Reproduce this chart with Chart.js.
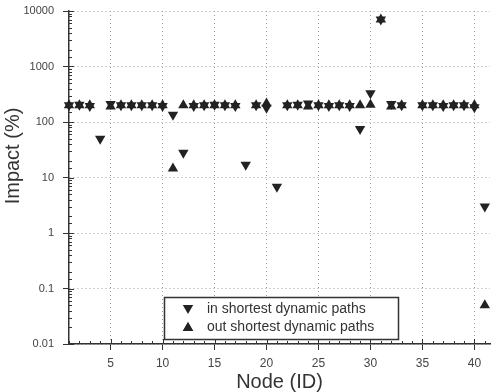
<!DOCTYPE html>
<html>
<head>
<meta charset="utf-8">
<script src="https://cdn.jsdelivr.net/npm/chart.js@4.4.0/dist/chart.umd.min.js"></script>
<style>
html, body { margin: 0; padding: 0; background: #fff; overflow: hidden; }
</style>
</head>
<body>
<canvas id="impactChart" width="496" height="392"></canvas>
<script>
const nodes = [1,2,3,4,5,6,7,8,9,10,11,12,13,14,15,16,17,18,19,20,21,22,23,24,25,26,27,28,29,30,31,32,33,34,35,36,37,38,39,40,41];

// in shortest dynamic paths (down triangles)
const inPaths = [200,205,195,50,210,200,200,200,200,195,135,28,195,200,205,200,195,17,200,180,6.8,200,205,215,200,195,200,195,75,330,7000,210,200,null,200,200,195,200,200,185,3];

// out shortest dynamic paths (up triangles)
const outPaths = [200,200,200,null,190,200,200,200,200,200,14.5,200,200,200,200,200,200,null,200,215,null,200,200,190,200,200,200,200,200,205,7000,190,200,null,200,200,200,200,200,200,0.05];

const seriesLabels = ['in shortest dynamic paths', 'out shortest dynamic paths'];
const xTickValues = [5,10,15,20,25,30,35,40];
const yTickLabels = ['0.01','0.1','1','10','100','1000','10000'];

const FONT = "'Liberation Sans', Arial, sans-serif";
const INK = '#222';

const isDecade = v => {
    const e = Math.log10(v);
    return Math.abs(e - Math.round(e)) < 1e-6;
};

const toPoints = vals => nodes.map((n, i) => ({ x: n, y: vals[i] }));

/* small inward tick marks + legend box + y title */
const decorations = {
    id: 'decorations',
    afterDraw(chart) {
        const { ctx, chartArea: a, scales: { x, y } } = chart;
        ctx.save();
        ctx.strokeStyle = '#333';
        ctx.lineWidth = 1;
        ctx.beginPath();
        y.ticks.forEach(t => {
            const py = Math.round(y.getPixelForValue(t.value)) + 0.5;
            const len = isDecade(t.value) ? 5 : 3;
            ctx.moveTo(a.left, py); ctx.lineTo(a.left + len, py);
        });
        x.ticks.forEach(t => {
            const px = Math.round(x.getPixelForValue(t.value)) + 0.5;
            const len = xTickValues.includes(t.value) ? 5 : 3;
            ctx.moveTo(px, a.bottom); ctx.lineTo(px, a.bottom - len);
        });
        ctx.stroke();

        // legend
        ctx.fillStyle = '#fff';
        ctx.fillRect(164, 297, 234, 42);
        ctx.strokeStyle = '#333';
        ctx.lineWidth = 1.5;
        ctx.strokeRect(164.5, 297.5, 234, 42);
        chart.data.datasets.forEach((ds, i) => {
            const cy = 309 + i * 18;
            Chart.helpers.drawPoint(ctx, {
                pointStyle: 'triangle', rotation: ds.pointRotation, radius: 6, borderWidth: 0
            }, 188, cy + (ds.pointRotation ? -1 : 1));
            ctx.fillStyle = INK;
            ctx.fill();
            ctx.fillStyle = '#333';
            ctx.font = '14px ' + FONT;
            ctx.textBaseline = 'middle';
            ctx.textAlign = 'left';
            ctx.fillText(ds.label, 207, cy);
        });

        // y axis title
        ctx.translate(13, 156);
        ctx.rotate(-Math.PI / 2);
        ctx.textAlign = 'center';
        ctx.textBaseline = 'middle';
        ctx.font = '20px ' + FONT;
        ctx.fillStyle = '#333';
        ctx.fillText('Impact (%)', 0, 0);
        ctx.restore();
    }
};

new Chart(document.getElementById('impactChart'), {
    type: 'scatter',
    data: {
        datasets: [{
            label: seriesLabels[0],
            data: toPoints(inPaths),
            pointStyle: 'triangle',
            pointRotation: 180,
            pointRadius: 6,
            pointBackgroundColor: INK,
            pointBorderWidth: 0,
            clip: false
        }, {
            label: seriesLabels[1],
            data: toPoints(outPaths),
            pointStyle: 'triangle',
            pointRotation: 0,
            pointRadius: 6,
            pointBackgroundColor: INK,
            pointBorderWidth: 0,
            clip: false
        }]
    },
    options: {
        responsive: false,
        animation: false,
        devicePixelRatio: 1,
        layout: { padding: { top: 11, right: 0, left: 0, bottom: 0 } },
        plugins: {
            legend: { display: false },
            tooltip: { enabled: false }
        },
        scales: {
            x: {
                type: 'linear',
                min: 1,
                max: 41.5,
                afterBuildTicks: s => { s.ticks = nodes.map(v => ({ value: v })); },
                afterFit: s => { s.height = 48; },
                ticks: {
                    autoSkip: false,
                    maxRotation: 0,
                    padding: 6,
                    color: '#444',
                    font: { family: FONT, size: 12 },
                    callback: v => xTickValues.includes(v) ? String(v) : ''
                },
                grid: {
                    color: c => (c.tick && xTickValues.includes(c.tick.value)) ? '#a0a0a0' : 'rgba(0,0,0,0)',
                    tickColor: c => (c.tick && xTickValues.includes(c.tick.value)) ? '#333' : 'rgba(0,0,0,0)',
                    tickLength: 6,
                    lineWidth: 1
                },
                border: { color: '#333', width: 1.5, dash: [1, 3] },
                title: {
                    display: true,
                    text: 'Node (ID)',
                    color: '#333',
                    font: { family: FONT, size: 20, lineHeight: 1 },
                    padding: { top: 0, bottom: 0 }
                }
            },
            y: {
                type: 'logarithmic',
                min: 0.01,
                max: 10000,
                afterFit: s => { s.width = 69; s.paddingTop = 0; s.paddingBottom = 0; },
                ticks: {
                    autoSkip: false,
                    padding: 9,
                    color: '#444',
                    font: { family: FONT, size: 11 },
                    callback: v => isDecade(v) ? yTickLabels[Math.round(Math.log10(v)) + 2] : ''
                },
                grid: {
                    color: c => (c.tick && isDecade(c.tick.value)) ? '#a0a0a0' : 'rgba(0,0,0,0)',
                    tickColor: c => (c.tick && isDecade(c.tick.value)) ? '#333' : 'rgba(0,0,0,0)',
                    tickLength: 6,
                    lineWidth: 1
                },
                border: { color: '#333', width: 1.5, dash: [1, 3] }
            }
        }
    },
    plugins: [decorations]
});
</script>
</body>
</html>
